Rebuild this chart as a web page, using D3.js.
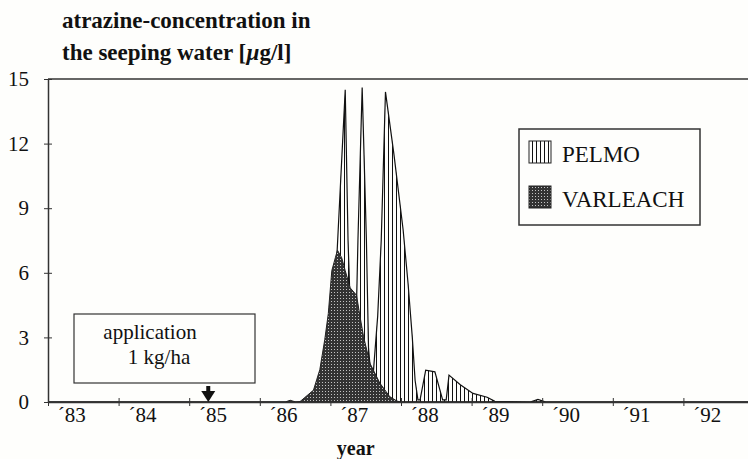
<!DOCTYPE html>
<html>
<head>
<meta charset="utf-8">
<script src="https://cdn.jsdelivr.net/npm/d3@7"></script>
<style>
  body { margin: 0; background: #fefefc; }
  svg { display: block; }
  svg text { font-family: "Liberation Serif", "Times New Roman", serif; }
</style>
</head>
<body>
<div id="chart"></div>
<script>
// values (decimal year, concentration in µg/l)
var pelmoYears = [1983.00, 1986.57, 1986.82, 1986.94, 1987.08, 1987.21, 1987.25, 1987.31, 1987.35,
                  1987.39, 1987.45, 1987.51, 1987.54, 1987.59, 1987.67, 1987.72, 1987.78, 1987.90,
                  1988.03, 1988.10, 1988.16, 1988.20, 1988.24, 1988.27, 1988.35, 1988.48, 1988.59,
                  1988.64, 1988.68, 1988.84, 1989.02, 1989.22, 1989.33, 1989.83, 1989.94, 1990.05, 1993.00];
var pelmoValues = [0, 0, 0.3, 0.6, 6.0, 14.5, 7.5, 1.5, 1.5,
                   7.5, 14.6, 7.5, 2.5, 0.6, 4.0, 7.5, 14.4, 11.5,
                   8.0, 5.5, 3.0, 1.0, 0.1, 0.1, 1.48, 1.4, 0.1,
                   0.1, 1.25, 0.8, 0.4, 0.22, 0.03, 0, 0.12, 0, 0];

var varleachYears = [1983.00, 1986.36, 1986.43, 1986.51, 1986.57, 1986.76, 1986.85, 1986.92, 1986.97,
                     1987.02, 1987.07, 1987.10, 1987.16, 1987.21, 1987.28, 1987.37, 1987.42, 1987.47,
                     1987.56, 1987.70, 1987.84, 1987.94, 1987.99, 1993.00];
var varleachValues = [0, 0, 0.08, 0, 0.02, 0.55, 1.5, 2.9, 4.1,
                      6.1, 6.7, 7.05, 6.7, 6.1, 5.3, 4.96, 3.96, 3.03,
                      1.8, 0.88, 0.25, 0.05, 0, 0];

var yearTicks = [1983, 1984, 1985, 1986, 1987, 1988, 1989, 1990, 1991, 1992];
var yTicks = [0, 3, 6, 9, 12, 15];
var applicationYear = 1985.27;

var width = 748, height = 459;
var svg = d3.select("#chart").append("svg").attr("width", width).attr("height", height);

var x = d3.scaleLinear().domain([1983, 1993]).range([48, 754]);
var y = d3.scaleLinear().domain([0, 15]).range([402, 79]);

// fill patterns
var defs = svg.append("defs");
var hatch = defs.append("pattern").attr("id", "hatch").attr("patternUnits", "userSpaceOnUse")
    .attr("width", 4).attr("height", 4);
hatch.append("rect").attr("width", 4).attr("height", 4).attr("fill", "#fefefc");
hatch.append("line").attr("x1", 0.5).attr("x2", 0.5).attr("y1", 0).attr("y2", 4)
    .attr("stroke", "#111").attr("stroke-width", 1);

var dots = defs.append("pattern").attr("id", "dots").attr("patternUnits", "userSpaceOnUse")
    .attr("width", 3).attr("height", 3);
dots.append("rect").attr("width", 3).attr("height", 3).attr("fill", "#333");
dots.append("rect").attr("x", 1).attr("y", 1).attr("width", 1).attr("height", 1).attr("fill", "#c4c4c4");

// areas
var area = d3.area()
    .x(function(d) { return x(d[0]); })
    .y0(y(0))
    .y1(function(d) { return y(d[1]); });

var pelmo = d3.zip(pelmoYears, pelmoValues);
var varleach = d3.zip(varleachYears, varleachValues);

svg.append("path").datum(pelmo).attr("d", area)
    .attr("fill", "url(#hatch)").attr("stroke", "#111").attr("stroke-width", 1.2);
svg.append("path").datum(varleach).attr("d", area)
    .attr("fill", "url(#dots)").attr("stroke", "#222").attr("stroke-width", 1);

// frame: top line and the two axes
svg.append("line").attr("x1", x(1983)).attr("x2", x(1993)).attr("y1", y(15)).attr("y2", y(15))
    .attr("stroke", "#333").attr("stroke-width", 1.5);

var yAxis = svg.append("g").attr("transform", "translate(" + x(1983) + ",0)")
    .call(d3.axisLeft(y).tickValues(yTicks).tickSizeInner(4).tickSizeOuter(0).tickPadding(15));
yAxis.selectAll(".tick line").attr("x1", -4).attr("x2", 4);

var xAxis = svg.append("g").attr("transform", "translate(0," + y(0) + ")")
    .call(d3.axisBottom(x).tickValues(yearTicks).tickSizeOuter(0).tickSizeInner(4).tickFormat(""));
xAxis.selectAll(".tick line").attr("y1", -4).attr("y2", 4);

// year labels sit a little left of the band centres in the original
var xLabels = svg.append("g").attr("transform", "translate(0," + y(0) + ")")
    .call(d3.axisBottom(x).tickValues(yearTicks.map(function(d) { return d + 0.5; }))
        .tickSize(0).tickPadding(5)
        .tickFormat(function(d) { return "\u00b4" + String(Math.floor(d)).slice(2); }));
xLabels.select(".domain").remove();
xLabels.selectAll(".tick text").attr("dx", -12);

svg.selectAll(".domain").attr("stroke", "#333").attr("stroke-width", 1.5);
svg.selectAll(".tick line").attr("stroke", "#333");
svg.selectAll(".tick text").attr("font-size", 21).attr("fill", "#111");

// titles
var title = svg.append("text").attr("font-weight", "bold").attr("font-size", 23).attr("fill", "#111");
title.append("tspan").attr("x", 62).attr("y", 28).text("atrazine-concentration in");
title.append("tspan").attr("x", 62).attr("y", 60).text("the seeping water [");
title.append("tspan").attr("font-style", "italic").text("\u00b5");
title.append("tspan").text("g/l]");

svg.append("text").attr("x", x(1987.5) - 10).attr("y", 455).attr("text-anchor", "middle")
    .attr("font-weight", "bold").attr("font-size", 20).attr("fill", "#111").text("year");

// legend
var legend = svg.append("g");
legend.append("rect").attr("x", 519).attr("y", 129).attr("width", 181).attr("height", 96)
    .attr("fill", "none").attr("stroke", "#333").attr("stroke-width", 1.5);
var legendItems = [["PELMO", "url(#hatch)"], ["VARLEACH", "url(#dots)"]];
legend.selectAll(".item").data(legendItems).enter().append("g")
    .each(function(d, i) {
        var g = d3.select(this);
        g.append("rect").attr("x", 529).attr("y", 141 + i * 45).attr("width", 22).attr("height", 22)
            .attr("fill", d[1]).attr("stroke", "#222").attr("stroke-width", 1);
        g.append("text").attr("x", 562).attr("y", 162 + i * 45).attr("font-size", 23)
            .attr("fill", "#111").text(d[0]);
    });

// application note
svg.append("rect").attr("x", 74).attr("y", 314).attr("width", 181).attr("height", 69)
    .attr("fill", "#fefefc").attr("stroke", "#333").attr("stroke-width", 1.2);
svg.append("text").attr("x", 150).attr("y", 339).attr("text-anchor", "middle")
    .attr("font-size", 21).attr("fill", "#111").text("application");
svg.append("text").attr("x", 159).attr("y", 364).attr("text-anchor", "middle")
    .attr("font-size", 21).attr("fill", "#111").text("1 kg/ha");

var ax = x(applicationYear);
svg.append("rect").attr("x", ax - 2).attr("y", 386).attr("width", 4).attr("height", 8).attr("fill", "#111");
svg.append("path").attr("d", "M" + (ax - 7) + ",391L" + (ax + 7) + ",391L" + ax + ",402Z").attr("fill", "#111");
</script>
</body>
</html>
